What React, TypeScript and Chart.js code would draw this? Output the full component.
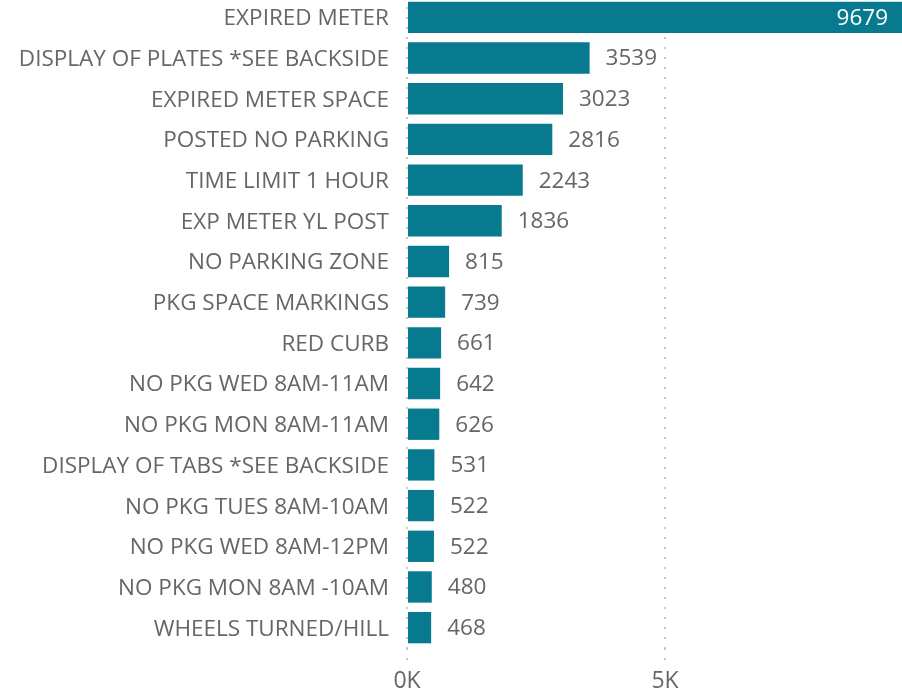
import React, { useEffect, useRef } from "react";
import { Chart, registerables } from "chart.js";

Chart.register(...registerables);

const categories = [
  "EXPIRED METER",
  "DISPLAY OF PLATES *SEE BACKSIDE",
  "EXPIRED METER SPACE",
  "POSTED NO PARKING",
  "TIME LIMIT 1 HOUR",
  "EXP METER YL POST",
  "NO PARKING ZONE",
  "PKG SPACE MARKINGS",
  "RED CURB",
  "NO PKG WED 8AM-11AM",
  "NO PKG MON 8AM-11AM",
  "DISPLAY OF TABS *SEE BACKSIDE",
  "NO PKG TUES 8AM-10AM",
  "NO PKG WED 8AM-12PM",
  "NO PKG MON 8AM -10AM",
  "WHEELS TURNED/HILL",
];

const values = [9679, 3539, 3023, 2816, 2243, 1836, 815, 739, 661, 642, 626, 531, 522, 522, 480, 468];

const xTicks = [0, 5000];
const xMax = 9593;

const FONT = "'Open Sans', sans-serif";
const TEXT = "#666666";
const BAR = "#077A8F";
const GRID = "#c8c8c8";

const W = 902;
const H = 699;

const valueLabels = {
  id: "valueLabels",
  afterDatasetsDraw(chart: any) {
    const { ctx, chartArea } = chart;
    const meta = chart.getDatasetMeta(0);
    ctx.save();
    ctx.font = `22.5px ${FONT}`;
    ctx.textBaseline = "middle";
    meta.data.forEach((bar: any, i: number) => {
      const text = String(values[i]);
      const w = ctx.measureText(text).width;
      const end = bar.x;
      if (end + 16 + w > chartArea.right) {
        ctx.fillStyle = "#ffffff";
        ctx.textAlign = "right";
        ctx.fillText(text, Math.min(end, chartArea.right) - 14, bar.y + 1);
      } else {
        ctx.fillStyle = TEXT;
        ctx.textAlign = "left";
        ctx.fillText(text, end + 16, bar.y + 1);
      }
    });
    ctx.restore();
  },
};

export default function App() {
  const ref = useRef<HTMLCanvasElement | null>(null);

  useEffect(() => {
    if (!ref.current) return;
    const chart = new Chart(ref.current, {
      type: "bar",
      data: {
        labels: categories,
        datasets: [
          {
            data: values,
            backgroundColor: BAR,
            barPercentage: 0.77,
            categoryPercentage: 1,
          },
        ],
      },
      options: {
        indexAxis: "y",
        animation: false,
        responsive: false,
        layout: { padding: 0 },
        plugins: {
          legend: { display: false },
          tooltip: { enabled: false },
        },
        scales: {
          x: {
            min: 0,
            max: xMax,
            afterBuildTicks: (s: any) => {
              s.ticks = xTicks.map((v) => ({ value: v }));
            },
            afterFit: (s: any) => {
              s.height = 48;
              s.paddingLeft = 0;
              s.paddingRight = 0;
            },
            ticks: {
              font: { family: FONT, size: 23 },
              color: TEXT,
              padding: 8,
              callback: (v: any) => `${Number(v) / 1000}K`,
            },
            grid: {
              color: GRID,
              lineWidth: 2,
              tickLength: 12,
              tickColor: GRID,
              tickWidth: 2,
              tickBorderDash: [2, 8],
            },
            border: { display: false, dash: [2, 8] },
          },
          y: {
            afterFit: (s: any) => {
              s.width = 407;
              s.paddingTop = 0;
              s.paddingBottom = 0;
            },
            grid: { display: false, drawTicks: false },
            border: { display: false },
            ticks: {
              font: { family: FONT, size: 22.5 },
              color: TEXT,
              padding: 18,
              autoSkip: false,
              labelOffset: 1.5,
            },
          },
        },
      },
      plugins: [valueLabels],
    });
    return () => chart.destroy();
  }, []);

  return (
    <div style={{ position: "fixed", left: 0, top: -3, width: W, height: H }}>
      <canvas ref={ref} width={W} height={H} style={{ display: "block", width: W, height: H }} />
    </div>
  );
}
